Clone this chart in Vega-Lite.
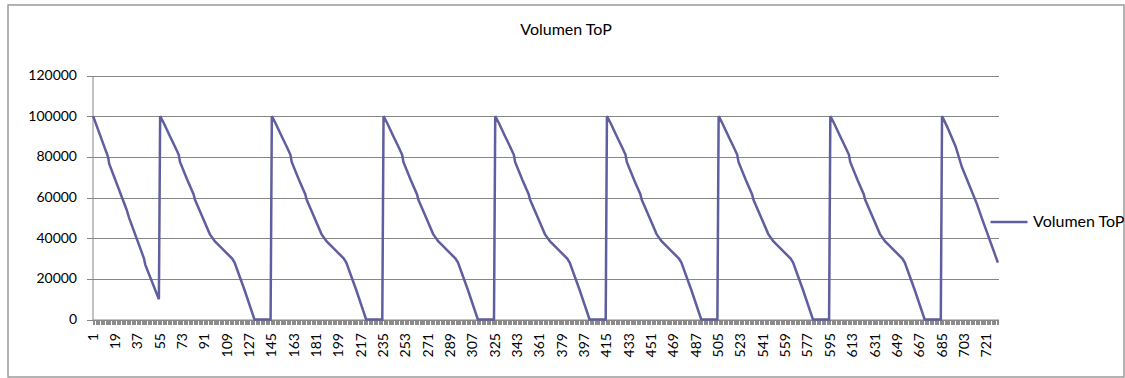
{
  "$schema": "https://vega.github.io/schema/vega-lite/v6.json",
  "autosize": {"type": "none"},
  "padding": {"left": 8, "top": 5, "right": 1, "bottom": 1},
  "width": 1116,
  "height": 372,
  "background": "white",
  "title": {
    "text": "Volumen ToP",
    "anchor": "middle",
    "frame": "group",
    "offset": -46,
    "baseline": "alphabetic",
    "font": "Lato",
    "fontSize": 16,
    "fontWeight": "normal",
    "color": "#000000"
  },
  "data": {
    "values": [
      {"dia": 1, "volumen": 100000}, {"dia": 13, "volumen": 80000}, {"dia": 14, "volumen": 76500},
      {"dia": 28, "volumen": 54000}, {"dia": 30, "volumen": 50000}, {"dia": 42, "volumen": 30000},
      {"dia": 43, "volumen": 27000}, {"dia": 54, "volumen": 10000},

      {"dia": 55, "volumen": 100000}, {"dia": 58, "volumen": 96500}, {"dia": 63, "volumen": 90000},
      {"dia": 67, "volumen": 85000}, {"dia": 70, "volumen": 81000}, {"dia": 71, "volumen": 77500},
      {"dia": 77, "volumen": 68500}, {"dia": 82, "volumen": 61500}, {"dia": 83, "volumen": 59000},
      {"dia": 89, "volumen": 50500}, {"dia": 95, "volumen": 42000}, {"dia": 99, "volumen": 38500},
      {"dia": 104, "volumen": 35500}, {"dia": 108, "volumen": 33000}, {"dia": 113, "volumen": 30000},
      {"dia": 115, "volumen": 28000}, {"dia": 123, "volumen": 14500}, {"dia": 131, "volumen": 0},
      {"dia": 144, "volumen": 0},

      {"dia": 145, "volumen": 100000}, {"dia": 148, "volumen": 96500}, {"dia": 153, "volumen": 90000},
      {"dia": 157, "volumen": 85000}, {"dia": 160, "volumen": 81000}, {"dia": 161, "volumen": 77500},
      {"dia": 167, "volumen": 68500}, {"dia": 172, "volumen": 61500}, {"dia": 173, "volumen": 59000},
      {"dia": 179, "volumen": 50500}, {"dia": 185, "volumen": 42000}, {"dia": 189, "volumen": 38500},
      {"dia": 194, "volumen": 35500}, {"dia": 198, "volumen": 33000}, {"dia": 203, "volumen": 30000},
      {"dia": 205, "volumen": 28000}, {"dia": 213, "volumen": 14500}, {"dia": 221, "volumen": 0},
      {"dia": 234, "volumen": 0},

      {"dia": 235, "volumen": 100000}, {"dia": 238, "volumen": 96500}, {"dia": 243, "volumen": 90000},
      {"dia": 247, "volumen": 85000}, {"dia": 250, "volumen": 81000}, {"dia": 251, "volumen": 77500},
      {"dia": 257, "volumen": 68500}, {"dia": 262, "volumen": 61500}, {"dia": 263, "volumen": 59000},
      {"dia": 269, "volumen": 50500}, {"dia": 275, "volumen": 42000}, {"dia": 279, "volumen": 38500},
      {"dia": 284, "volumen": 35500}, {"dia": 288, "volumen": 33000}, {"dia": 293, "volumen": 30000},
      {"dia": 295, "volumen": 28000}, {"dia": 303, "volumen": 14500}, {"dia": 311, "volumen": 0},
      {"dia": 324, "volumen": 0},

      {"dia": 325, "volumen": 100000}, {"dia": 328, "volumen": 96500}, {"dia": 333, "volumen": 90000},
      {"dia": 337, "volumen": 85000}, {"dia": 340, "volumen": 81000}, {"dia": 341, "volumen": 77500},
      {"dia": 347, "volumen": 68500}, {"dia": 352, "volumen": 61500}, {"dia": 353, "volumen": 59000},
      {"dia": 359, "volumen": 50500}, {"dia": 365, "volumen": 42000}, {"dia": 369, "volumen": 38500},
      {"dia": 374, "volumen": 35500}, {"dia": 378, "volumen": 33000}, {"dia": 383, "volumen": 30000},
      {"dia": 385, "volumen": 28000}, {"dia": 393, "volumen": 14500}, {"dia": 401, "volumen": 0},
      {"dia": 414, "volumen": 0},

      {"dia": 415, "volumen": 100000}, {"dia": 418, "volumen": 96500}, {"dia": 423, "volumen": 90000},
      {"dia": 427, "volumen": 85000}, {"dia": 430, "volumen": 81000}, {"dia": 431, "volumen": 77500},
      {"dia": 437, "volumen": 68500}, {"dia": 442, "volumen": 61500}, {"dia": 443, "volumen": 59000},
      {"dia": 449, "volumen": 50500}, {"dia": 455, "volumen": 42000}, {"dia": 459, "volumen": 38500},
      {"dia": 464, "volumen": 35500}, {"dia": 468, "volumen": 33000}, {"dia": 473, "volumen": 30000},
      {"dia": 475, "volumen": 28000}, {"dia": 483, "volumen": 14500}, {"dia": 491, "volumen": 0},
      {"dia": 504, "volumen": 0},

      {"dia": 505, "volumen": 100000}, {"dia": 508, "volumen": 96500}, {"dia": 513, "volumen": 90000},
      {"dia": 517, "volumen": 85000}, {"dia": 520, "volumen": 81000}, {"dia": 521, "volumen": 77500},
      {"dia": 527, "volumen": 68500}, {"dia": 532, "volumen": 61500}, {"dia": 533, "volumen": 59000},
      {"dia": 539, "volumen": 50500}, {"dia": 545, "volumen": 42000}, {"dia": 549, "volumen": 38500},
      {"dia": 554, "volumen": 35500}, {"dia": 558, "volumen": 33000}, {"dia": 563, "volumen": 30000},
      {"dia": 565, "volumen": 28000}, {"dia": 573, "volumen": 14500}, {"dia": 581, "volumen": 0},
      {"dia": 594, "volumen": 0},

      {"dia": 595, "volumen": 100000}, {"dia": 598, "volumen": 96500}, {"dia": 603, "volumen": 90000},
      {"dia": 607, "volumen": 85000}, {"dia": 610, "volumen": 81000}, {"dia": 611, "volumen": 77500},
      {"dia": 617, "volumen": 68500}, {"dia": 622, "volumen": 61500}, {"dia": 623, "volumen": 59000},
      {"dia": 629, "volumen": 50500}, {"dia": 635, "volumen": 42000}, {"dia": 639, "volumen": 38500},
      {"dia": 644, "volumen": 35500}, {"dia": 648, "volumen": 33000}, {"dia": 653, "volumen": 30000},
      {"dia": 655, "volumen": 28000}, {"dia": 663, "volumen": 14500}, {"dia": 671, "volumen": 0},
      {"dia": 684, "volumen": 0},

      {"dia": 685, "volumen": 100000}, {"dia": 689, "volumen": 95000}, {"dia": 696, "volumen": 85000},
      {"dia": 701, "volumen": 75000}, {"dia": 713, "volumen": 57000}, {"dia": 717, "volumen": 50000},
      {"dia": 730, "volumen": 28000}
    ]
  },
  "mark": {"type": "line", "strokeWidth": 2.5, "clip": false},
  "encoding": {
    "x": {
      "field": "dia",
      "type": "quantitative",
      "scale": {"domain": [0.5, 730.5], "range": [84.5, 990.5], "nice": false, "zero": false},
      "axis": {
        "title": null,
        "offset": -57.5,
        "tickCount": 730,
        "labelExpr": "(datum.value - 1) % 18 === 0 ? datum.label : ''",
        "labelAngle": 270,
        "labelOverlap": false,
        "labelFlush": false,
        "labelBound": false,
        "grid": false,
        "tickSize": 5,
        "tickColor": "#8c8c8c",
        "tickWidth": 1,
        "labelPadding": 8,
        "domainColor": "#868686",
        "domainWidth": 1,
        "labelFont": "Lato",
        "labelFontSize": 14,
        "labelColor": "#000000"
      }
    },
    "y": {
      "field": "volumen",
      "type": "quantitative",
      "scale": {"domain": [0, 120000], "range": [314.5, 70.5], "nice": false},
      "axis": {
        "title": null,
        "offset": -84.5,
        "values": [0, 20000, 40000, 60000, 80000, 100000, 120000],
        "format": "d",
        "grid": true,
        "gridColor": "#868686",
        "gridWidth": 1,
        "tickSize": 6,
        "tickColor": "#868686",
        "domainColor": "#868686",
        "labelPadding": 10,
        "labelFont": "Lato",
        "labelFontSize": 14,
        "labelColor": "#000000"
      }
    },
    "color": {
      "datum": "Volumen ToP",
      "scale": {"range": ["#5f5f9f"]},
      "legend": {
        "title": null,
        "orient": "none",
        "legendX": 981,
        "legendY": 197,
        "padding": 0,
        "symbolType": "stroke",
        "symbolSize": 1369,
        "symbolStrokeWidth": 2.5,
        "labelFont": "Lato",
        "labelFontSize": 16,
        "labelColor": "#000000",
        "labelOffset": 4
      }
    }
  },
  "config": {
    "view": {"stroke": "#9a9a9a", "strokeWidth": 1.5, "fill": "white"}
  }
}
